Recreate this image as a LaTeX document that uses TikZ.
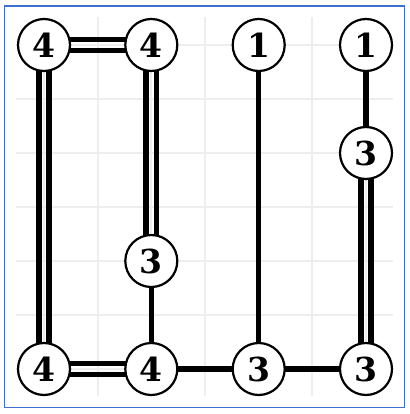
\documentclass[tikz,border=0pt]{standalone}
\usepackage{fontspec}
\setmainfont{DejaVu Serif}
\usetikzlibrary{backgrounds}
\definecolor{gridgray}{HTML}{EEEEEE}
\definecolor{frameblue}{HTML}{3F6FCF}
\tikzset{
  island/.style={circle, draw=black, line width=2.2pt, fill=white, minimum size=52pt, inner sep=0pt,
    font=\fontsize{33}{33}\selectfont\bfseries},
  bridge/.style={line width=5.5pt, draw=black},
  gridline/.style={line width=2pt, draw=gridgray},
}
\begin{document}
\begin{tikzpicture}[x=1pt,y=-1pt]
\useasboundingbox (0,0) rectangle (409,414);
% islands
\node[island] (a1) at (44,45) {4};
\node[island] (a2) at (151.3,45) {4};
\node[island] (a3) at (258.7,45) {1};
\node[island] (a4) at (366,45) {1};
\node[island] (b4) at (366,153) {3};
\node[island] (c2) at (151.3,261) {3};
\node[island] (d1) at (44,369) {4};
\node[island] (d2) at (151.3,369) {4};
\node[island] (d3) at (258.7,369) {3};
\node[island] (d4) at (366,369) {3};
\begin{pgfonlayer}{background}
  \draw[frameblue, line width=1.2pt] (4.5,6) rectangle (404.5,407.5);
  % grid
  \foreach \k in {0,...,6} {
    \draw[gridline] (44+53.67*\k,17) -- (44+53.67*\k,396);
    \draw[gridline] (16,45+54*\k) -- (393,45+54*\k);
  }
  % double bridges
  \draw[bridge] ([yshift=-5.3pt]a1.center) -- ([yshift=-5.3pt]a2.center);
  \draw[bridge] ([yshift=5.3pt]a1.center) -- ([yshift=5.3pt]a2.center);
  \draw[bridge] ([yshift=-5.3pt]d1.center) -- ([yshift=-5.3pt]d2.center);
  \draw[bridge] ([yshift=5.3pt]d1.center) -- ([yshift=5.3pt]d2.center);
  \draw[bridge] ([xshift=-5.2pt]a1.center) -- ([xshift=-5.2pt]d1.center);
  \draw[bridge] ([xshift=5.2pt]a1.center) -- ([xshift=5.2pt]d1.center);
  \draw[bridge] ([xshift=-5.2pt]a2.center) -- ([xshift=-5.2pt]c2.center);
  \draw[bridge] ([xshift=5.2pt]a2.center) -- ([xshift=5.2pt]c2.center);
  \draw[bridge] ([xshift=-5.2pt]b4.center) -- ([xshift=-5.2pt]d4.center);
  \draw[bridge] ([xshift=5.2pt]b4.center) -- ([xshift=5.2pt]d4.center);
  % single bridges
  \draw[bridge] (c2.center) -- (d2.center);
  \draw[bridge] (d2.center) -- (d3.center);
  \draw[bridge] (d3.center) -- (d4.center);
  \draw[bridge] (a3.center) -- (d3.center);
  \draw[bridge] (a4.center) -- (b4.center);
\end{pgfonlayer}
\end{tikzpicture}
\end{document}
